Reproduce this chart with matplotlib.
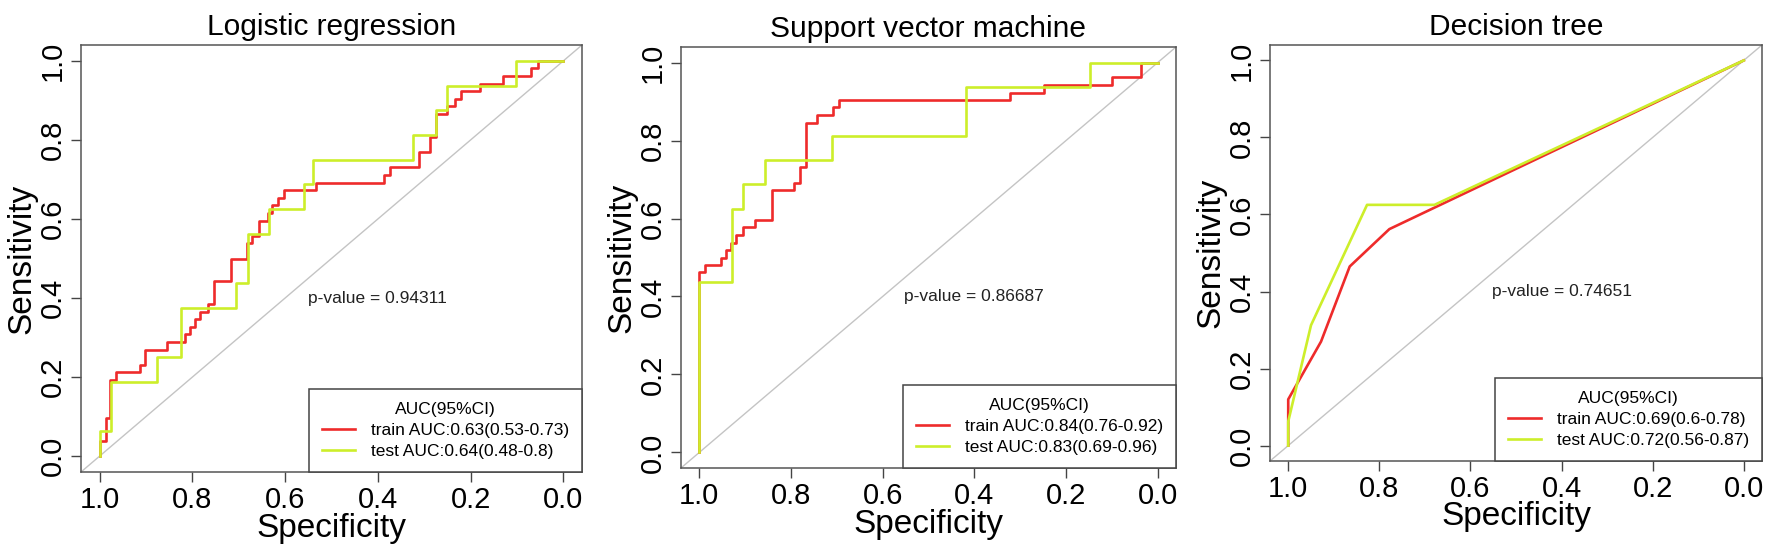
import matplotlib
matplotlib.use("Agg")
from matplotlib import pyplot as plt

plt.rcParams["font.family"] = ["Liberation Sans", "DejaVu Sans"]

# ROC step corners: (specificity, sensitivity)
lr_train_spec = [1.0, 1.0, 0.987, 0.978, 0.965, 0.912, 0.902, 0.855, 0.815, 0.804, 0.794, 0.784,
                 0.767, 0.754, 0.717, 0.683, 0.672, 0.656, 0.636, 0.628, 0.615, 0.603, 0.534,
                 0.387, 0.374, 0.311, 0.288, 0.274, 0.250, 0.233, 0.220, 0.180, 0.130, 0.070,
                 0.054, 0.0]
lr_train_sens = [0.0, 0.038, 0.096, 0.192, 0.212, 0.231, 0.269, 0.288, 0.308, 0.327, 0.346, 0.365,
                 0.385, 0.442, 0.500, 0.538, 0.558, 0.596, 0.615, 0.635, 0.654, 0.673, 0.692,
                 0.712, 0.731, 0.769, 0.808, 0.865, 0.885, 0.904, 0.923, 0.942, 0.962, 0.981,
                 1.0, 1.0]
lr_test_spec = [1.0, 1.0, 0.975, 0.876, 0.825, 0.706, 0.681, 0.634, 0.560, 0.540, 0.325, 0.275,
                0.250, 0.103, 0.0]
lr_test_sens = [0.0, 0.0625, 0.1875, 0.25, 0.375, 0.4375, 0.5625, 0.625, 0.6875, 0.75, 0.8125,
                0.875, 0.9375, 1.0, 1.0]

svm_train_spec = [1.0, 1.0, 0.988, 0.953, 0.941, 0.930, 0.919, 0.905, 0.878, 0.841, 0.793, 0.781,
                  0.768, 0.744, 0.708, 0.696, 0.322, 0.248, 0.099, 0.037, 0.0]
svm_train_sens = [0.0, 0.462, 0.481, 0.500, 0.519, 0.538, 0.558, 0.577, 0.596, 0.673, 0.692, 0.731,
                  0.846, 0.865, 0.885, 0.904, 0.923, 0.942, 0.962, 1.0, 1.0]
svm_test_spec = [1.0, 1.0, 0.929, 0.905, 0.857, 0.710, 0.418, 0.147, 0.0]
svm_test_sens = [0.0, 0.4375, 0.625, 0.6875, 0.75, 0.8125, 0.9375, 1.0, 1.0]

dt_train_spec = [1.0, 1.0, 0.928, 0.865, 0.778, 0.0]
dt_train_sens = [0.0, 0.12, 0.27, 0.465, 0.562, 1.0]
dt_test_spec = [1.0, 1.0, 0.950, 0.827, 0.679, 0.0]
dt_test_sens = [0.0, 0.0625, 0.3125, 0.625, 0.625, 1.0]

titles = ["Logistic regression", "Support vector machine", "Decision tree"]
p_values = ["0.94311", "0.86687", "0.74651"]
train_labels = ["train AUC:0.63(0.53-0.73)", "train AUC:0.84(0.76-0.92)", "train AUC:0.69(0.6-0.78)"]
test_labels = ["test AUC:0.64(0.48-0.8)", "test AUC:0.83(0.69-0.96)", "test AUC:0.72(0.56-0.87)"]

curves = [
    (lr_train_spec, lr_train_sens, lr_test_spec, lr_test_sens, "steps-post"),
    (svm_train_spec, svm_train_sens, svm_test_spec, svm_test_sens, "steps-post"),
    (dt_train_spec, dt_train_sens, dt_test_spec, dt_test_sens, "default"),
]

red = "#EE2B2B"
green = "#CDEE2A"
W, H = 1772, 548
# frame boxes in pixels: left, top, right, bottom
boxes = [(81, 45, 582, 472), (681, 47, 1176, 468), (1270, 45, 1762, 461)]

fig = plt.figure(figsize=(17.72, 5.48), dpi=100)

for i in range(3):
    l, t, r, b = boxes[i]
    ax = fig.add_axes([l / W, 1 - b / H, (r - l) / W, (b - t) / H])
    tr_x, tr_y, te_x, te_y, ds = curves[i]

    ax.axline((1, 0), (0, 1), color="#c4c4c4", lw=1, zorder=1)
    ax.plot(tr_x, tr_y, color=red, lw=1.9, drawstyle=ds, label=train_labels[i], zorder=3)
    ax.plot(te_x, te_y, color=green, lw=1.9, drawstyle=ds, label=test_labels[i], zorder=3)

    ax.set_xlim(1.04, -0.04)
    ax.set_ylim(-0.04, 1.04)
    ticks = [0.0, 0.2, 0.4, 0.6, 0.8, 1.0]
    ax.set_xticks(ticks)
    ax.set_yticks(ticks)
    ax.set_xticklabels(["%.1f" % v for v in ticks])
    ax.set_yticklabels(["%.1f" % v for v in ticks], rotation=90, va="center")
    ax.tick_params(labelsize=21, length=7, width=1, color="#444444", pad=3)
    for s in ax.spines.values():
        s.set_color("#555555")
        s.set_linewidth(1.1)

    ax.set_title(titles[i], fontsize=21.5, pad=7)
    ax.set_xlabel("Specificity", fontsize=24, labelpad=-1)
    ax.set_ylabel("Sensitivity", fontsize=24, labelpad=1)

    ax.text(0.4, 0.4, "p-value = " + p_values[i], fontsize=12.5, ha="center", va="center",
            color="#222222")

    leg = ax.legend(loc="lower right", title="AUC(95%CI)", fontsize=12.5, title_fontsize=12.5,
                    borderaxespad=0, fancybox=False, framealpha=1, edgecolor="#444444",
                    handlelength=1.9, handletextpad=0.9, borderpad=0.75, labelspacing=0.35)
    leg.get_frame().set_linewidth(1.1)

fig.savefig("out.png", dpi=100)
